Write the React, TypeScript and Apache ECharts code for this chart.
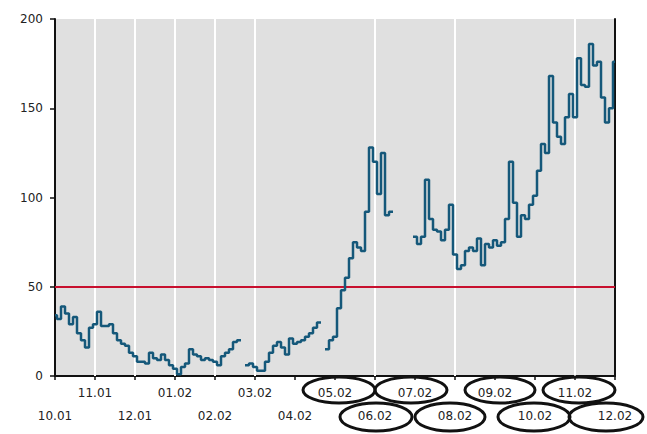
import React, { useEffect, useRef } from "react";
import * as echarts from "echarts";

const monthLabels = [
  "10.01", "11.01", "12.01", "01.02", "02.02", "03.02", "04.02", "05.02",
  "06.02", "07.02", "08.02", "09.02", "10.02", "11.02", "12.02",
];

// one value every 0.1 month, starting at 10.01
const seriesValues: (number | null)[] = [
  34, 32, 39, 35, 29, 33, 24, 20, 16, 27,
  29, 36, 28, 28, 29, 24, 20, 18, 17, 13,
  11, 8, 8, 7, 13, 10, 9, 12, 9, 6,
  4, 1, 5, 7, 15, 12, 11, 9, 10, 9,
  8, 6, 11, 13, 15, 19, 20, null, 6, 7,
  5, 3, 3, 8, 13, 17, 19, 16, 12, 21,
  18, 19, 20, 22, 24, 27, 30, null, 15, 20,
  22, 38, 48, 55, 66, 75, 72, 70, 92, 128,
  120, 102, 125, 90, 92, null, null, null, null, null,
  78, 74, 78, 110, 88, 82, 81, 76, 82, 96,
  68, 60, 62, 70, 72, 70, 77, 62, 74, 72,
  76, 73, 75, 88, 120, 97, 78, 90, 88, 96,
  101, 115, 130, 125, 168, 142, 134, 130, 145, 158,
  145, 178, 163, 162, 186, 174, 176, 156, 142, 150,
  176,
];

const yTicks = [0, 50, 100, 150, 200];
const thresholdValue = 50;
const gridMonths = [1, 2, 3, 4, 5, 8, 10, 13];

export default function App() {
  const ref = useRef<HTMLDivElement>(null);
  useEffect(() => {
    document.body.style.margin = "0";
    if (!ref.current) return;
    const chart = echarts.init(ref.current, null, { renderer: "svg" });
    const data = seriesValues.map((v, i) => [i / 10, v === null ? "-" : v]);
    const ell = (cx: number, cy: number, rx: number, ry: number) => ({
      type: "ellipse",
      shape: { cx, cy, rx, ry },
      style: { fill: "none", stroke: "#111", lineWidth: 3 },
      z: 100,
    });
    chart.setOption({
      animation: false,
      grid: {
        left: 55,
        right: 32,
        top: 19,
        bottom: 58,
        show: true,
        backgroundColor: "#e0e0e0",
        borderWidth: 0,
      },
      xAxis: {
        type: "value",
        min: 0,
        max: 14,
        interval: 1,
        axisLine: { show: true, lineStyle: { color: "#111", width: 2 } },
        axisTick: { show: true, length: 4, lineStyle: { color: "#111", width: 1.5 } },
        splitLine: { show: false },
        axisLabel: {
          margin: 5,
          fontSize: 12,
          color: "#222",
          fontFamily: "DejaVu Sans",
          lineHeight: 23,
          formatter: (v: number) => {
            const idx = Math.round(v);
            const lab = monthLabels[idx] ?? "";
            return idx % 2 === 0 ? "\n" + lab : lab;
          },
        },
      },
      yAxis: [
        {
          type: "value",
          min: 0,
          max: 200,
          interval: 50,
          axisLine: { show: true, lineStyle: { color: "#111", width: 2 } },
          axisTick: { show: true, length: 5, lineStyle: { color: "#111", width: 1.5 } },
          splitLine: { show: false },
          axisLabel: {
            margin: 12,
            fontSize: 12,
            color: "#222",
            fontFamily: "DejaVu Sans",
            formatter: (v: number) => (yTicks.includes(v) ? String(v) : ""),
          },
        },
        {
          type: "value",
          position: "right",
          min: 0,
          max: 200,
          axisLine: { show: true, lineStyle: { color: "#111", width: 2 } },
          axisTick: { show: false },
          axisLabel: { show: false },
          splitLine: { show: false },
        },
      ],
      series: [
        {
          type: "line",
          data: [],
          z: 1,
          silent: true,
          markLine: {
            silent: true,
            symbol: "none",
            label: { show: false },
            lineStyle: { color: "#ffffff", width: 2, type: "solid" },
            data: gridMonths.map((m) => ({ xAxis: m })),
          },
        },
        {
          type: "line",
          data: [],
          z: 2,
          silent: true,
          markLine: {
            silent: true,
            symbol: "none",
            label: { show: false },
            lineStyle: { color: "#c8102e", width: 2, type: "solid" },
            data: [{ yAxis: thresholdValue }],
          },
        },
        {
          type: "line",
          data,
          z: 5,
          step: "middle",
          showSymbol: false,
          connectNulls: false,
          lineStyle: { color: "#15587a", width: 2.5 },
        },
      ],
      graphic: [
        ell(339, 390, 36, 13),
        ell(411, 390, 36, 13),
        ell(500, 390, 35, 13),
        ell(579, 390, 36, 13),
        ell(376, 417, 36, 14),
        ell(450, 417, 35, 14),
        ell(534, 417, 36, 14),
        ell(606, 417, 37, 14),
      ],
    });
    return () => chart.dispose();
  }, []);
  return <div ref={ref} style={{ width: 647, height: 434 }} />;
}
